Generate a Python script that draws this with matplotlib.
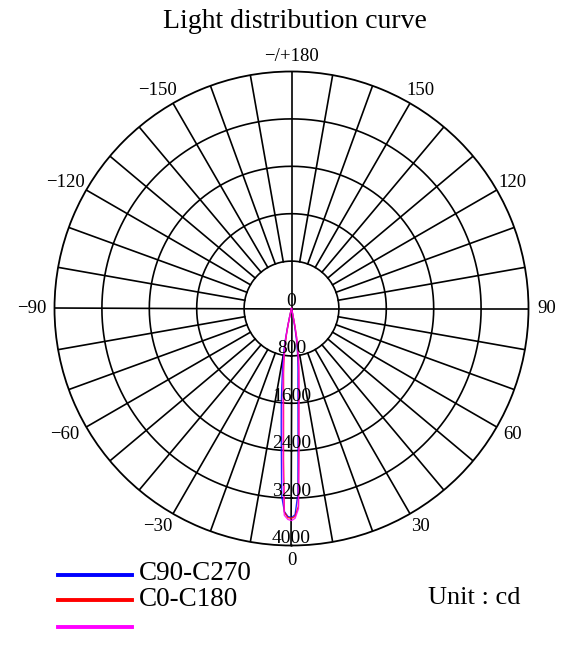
import numpy as np
import matplotlib
matplotlib.use("Agg")
import matplotlib.pyplot as plt
from matplotlib.lines import Line2D

plt.rcParams['font.family'] = ['Liberation Serif', 'DejaVu Serif']

# ---------------- data ----------------
title = "Light distribution curve"
ring_values = [0, 800, 1600, 2400, 3200, 4000]
angle_ticks = [0, 30, 60, 90, 120, 150, 180, -150, -120, -90, -60, -30]
angle_labels = ["0", "30", "60", "90", "120", "150", "\u2212/+180",
                "\u2212150", "\u2212120", "\u221290", "\u221260", "\u221230"]

# angles in degrees (positive = right side), intensity in cd
angles = [-14, -13, -12, -11, -10, -9, -8, -7, -6, -5, -4, -3, -2, -1, 0,
          1, 2, 3, 4, 5, 6, 7, 8, 9, 10, 11, 12, 13, 14]
c90_c270 = [0, 140, 340, 590, 760, 930, 1110, 1350, 1650, 1990, 2450, 3170, 3430, 3510, 3530,
            3480, 3120, 2110, 1570, 1250, 1050, 880, 710, 540, 340, 170, 50, 0, 0]
c0_c180 = [0, 70, 240, 440, 610, 760, 930, 1100, 1280, 1540, 1920, 2570, 3440, 3530, 3540,
           3510, 3340, 2360, 1770, 1420, 1180, 1000, 830, 660, 490, 290, 80, 0, 0]
c45_c225 = [0, 80, 270, 490, 660, 810, 980, 1160, 1370, 1640, 2040, 2700, 3490, 3560, 3580,
            3540, 3380, 2410, 1810, 1450, 1200, 1010, 840, 680, 510, 300, 100, 0, 0]

legend_labels = ["C90-C270", "C0-C180", ""]
colors = ["#0000ff", "#ff0000", "#ff00ff"]
unit_text = "Unit : cd"

# ---------------- figure ----------------
W, H = 567, 656
fig = plt.figure(figsize=(W / 100, H / 100), dpi=100)
cx, cy, R = 291.5, 308.5, 237.0
ax = fig.add_axes([(cx - R) / W, (H - cy - R) / H, 2 * R / W, 2 * R / H],
                  projection='polar')
ax.set_theta_zero_location('S')
ax.set_theta_direction(1)
rmax = ring_values[-1]
ax.set_rlim(0, rmax)
ax.grid(False)
ax.set_xticks([])
ax.set_yticks([])
ax.spines['polar'].set_linewidth(1.3)
ax.spines['polar'].set_color('black')

# rings
th = np.linspace(0, 2 * np.pi, 721)
for r in ring_values[1:-1]:
    ax.plot(th, np.full_like(th, r), color='black', lw=1.2, zorder=1)
# radial lines
for a in range(0, 360, 10):
    start = 0 if a % 90 == 0 else ring_values[1]
    ax.plot([np.deg2rad(a)] * 2, [start, rmax], color='black', lw=1.2, zorder=1)

# ring labels
for r in ring_values:
    ax.annotate(str(r), xy=(0, r), xytext=(0, 7), textcoords='offset pixels',
                ha='center', va='center', fontsize=14, zorder=5)

# angle labels
for a, lab in zip(angle_ticks, angle_labels):
    dx = 0
    if lab.startswith("\u2212") and a != 180:
        dx = -8
    elif 0 < a < 180:
        dx = 3
    ax.annotate(lab, xy=(np.deg2rad(a), 4255), xytext=(dx, 0),
                textcoords='offset pixels', ha='center', va='center',
                fontsize=13.5, annotation_clip=False)

# curves
t = np.deg2rad(angles)
for vals, col in zip([c90_c270, c0_c180, c45_c225], colors):
    ax.plot(t, vals, color=col, lw=1.0, zorder=3, alpha=0.85)

# title
fig.text(295 / W, 1 - 22 / H, title, ha='center', va='center', fontsize=20)

# legend (manual)
leg_y = [575, 600, 627]
for y, col, lab in zip(leg_y, colors, legend_labels):
    fig.add_artist(Line2D([58 / W, 132 / W], [1 - y / H, 1 - y / H],
                          color=col, lw=2.8, transform=fig.transFigure))
    if lab:
        fig.text(139 / W, 1 - (y - 1) / H, lab, ha='left', va='center', fontsize=19.5)

fig.text(428 / W, 1 - 598 / H, unit_text, ha='left', va='center', fontsize=19)

fig.savefig("out.png", dpi=100)
